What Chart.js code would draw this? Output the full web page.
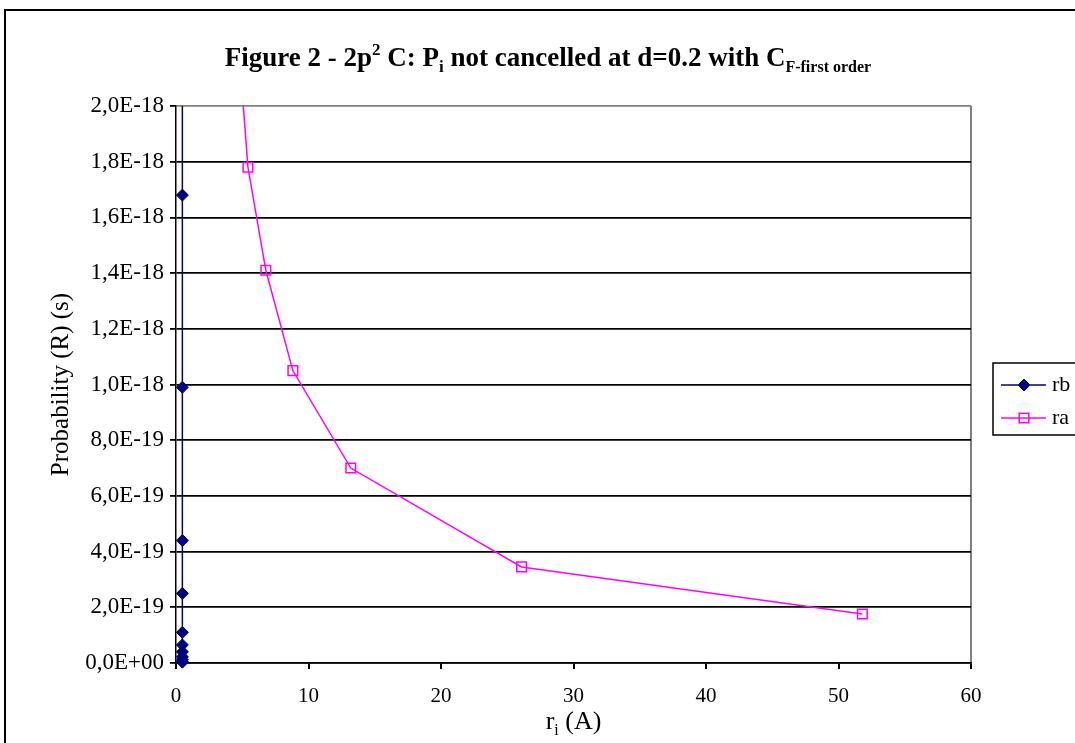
<!DOCTYPE html>
<html>
<head>
<meta charset="utf-8">
<script src="https://cdn.jsdelivr.net/npm/chart.js@4.4.1/dist/chart.umd.min.js"></script>
<style>
  html, body { margin: 0; padding: 0; background: #fff; }
  #frame { position: absolute; left: 4px; top: 9px; width: 1200px; height: 900px;
           border-left: 2px solid #000; border-top: 2px solid #000; }
  #wrap { position: absolute; left: 0; top: 0; width: 1075px; height: 743px; }
</style>
</head>
<body>
<div id="frame"></div>
<div id="wrap"><canvas id="chart" width="1075" height="743"></canvas></div>
<script>
// data (probabilities in s, r in A)
const rbR = [0.48, 0.48, 0.48, 0.48, 0.48, 0.48, 0.48, 0.48, 0.48, 0.48, 0.48, 0.48, 0.48];
const rbP = [4.5e-18, 2.9e-18, 1.68e-18, 0.99e-18, 0.44e-18, 0.25e-18, 0.11e-18, 0.065e-18,
             0.04e-18, 0.022e-18, 0.012e-18, 0.006e-18, 0.003e-18];
const raR = [4.2, 5.43, 6.78, 8.82, 13.19, 26.08, 51.8];
const raP = [2.55e-18, 1.78e-18, 1.41e-18, 1.05e-18, 0.70e-18, 0.345e-18, 0.176e-18];
const xTicks = [0, 10, 20, 30, 40, 50, 60];
const yTicks = [0, 2e-19, 4e-19, 6e-19, 8e-19, 1e-18, 1.2e-18, 1.4e-18, 1.6e-18, 1.8e-18, 2e-18];

const serif = '"Liberation Serif", "Times New Roman", serif';

// 2,0E-18 style labels
function sciComma(v) {
  const parts = Number(v).toExponential(1).split('e');
  let exp = parseInt(parts[1], 10);
  const sign = exp < 0 ? '-' : '+';
  exp = Math.abs(exp);
  return parts[0].replace('.', ',') + 'E' + sign + (exp < 10 ? '0' + exp : exp);
}

// draw a row of text pieces with different sizes / offsets
function drawRuns(ctx, runs, cx, baseY) {
  let total = 0;
  runs.forEach(r => { ctx.font = r.font; total += ctx.measureText(r.text).width; });
  let x = cx - total / 2;
  ctx.textAlign = 'left';
  ctx.textBaseline = 'alphabetic';
  runs.forEach(r => {
    ctx.font = r.font;
    ctx.fillText(r.text, x, baseY + (r.dy || 0));
    x += ctx.measureText(r.text).width;
  });
}

const textPlugin = {
  id: 'texts',
  afterDraw(chart) {
    const ctx = chart.ctx;
    const area = chart.chartArea;
    ctx.save();
    ctx.fillStyle = '#000';

    // title
    drawRuns(ctx, [
      { text: 'Figure 2 - 2p', font: 'bold 27px ' + serif },
      { text: '2', font: 'bold 17px ' + serif, dy: -11 },
      { text: ' C: P', font: 'bold 27px ' + serif },
      { text: 'i', font: 'bold 17px ' + serif, dy: 6 },
      { text: ' not cancelled at d=0.2 with C', font: 'bold 27px ' + serif },
      { text: 'F-first order', font: 'bold 16px ' + serif, dy: 6 }
    ], 548, 66);

    // x axis title
    drawRuns(ctx, [
      { text: 'r', font: '26px ' + serif },
      { text: 'i', font: '16px ' + serif, dy: 6 },
      { text: ' (A)', font: '26px ' + serif }
    ], (area.left + area.right) / 2, 729);

    // y axis title
    ctx.translate(61, (area.top + area.bottom) / 2);
    ctx.rotate(-Math.PI / 2);
    ctx.font = '25px ' + serif;
    ctx.textAlign = 'center';
    ctx.textBaseline = 'middle';
    ctx.fillText('Probability (R) (s)', 0, 0);
    ctx.restore();

    // legend box
    ctx.save();
    ctx.strokeStyle = '#000';
    ctx.lineWidth = 1.5;
    ctx.strokeRect(993, 363, 100, 72);
    const rows = [{ ds: chart.data.datasets[0], y: 385 }, { ds: chart.data.datasets[1], y: 418 }];
    rows.forEach(row => {
      const ds = row.ds;
      ctx.strokeStyle = ds.borderColor;
      ctx.lineWidth = ds.borderWidth;
      ctx.beginPath();
      ctx.moveTo(1001, row.y);
      ctx.lineTo(1046, row.y);
      ctx.stroke();
      ctx.fillStyle = ds.pointBackgroundColor;
      ctx.strokeStyle = ds.pointBorderColor;
      ctx.lineWidth = ds.pointBorderWidth;
      Chart.helpers.drawPoint(ctx, {
        pointStyle: ds.pointStyle, radius: ds.pointRadius, borderWidth: ds.pointBorderWidth
      }, 1024, row.y);
      ctx.fillStyle = '#000';
      ctx.font = '22px ' + serif;
      ctx.textAlign = 'left';
      ctx.textBaseline = 'middle';
      ctx.fillText(ds.label, 1052, row.y);
    });
    ctx.restore();
  }
};

const rbPoints = rbR.map((r, i) => ({ x: r, y: rbP[i] }));
const raPoints = raR.map((r, i) => ({ x: r, y: raP[i] }));

new Chart(document.getElementById('chart'), {
  type: 'scatter',
  data: {
    datasets: [
      {
        label: 'rb',
        data: rbPoints,
        showLine: true,
        borderColor: '#000080',
        borderWidth: 1.5,
        pointStyle: 'rectRot',
        pointRadius: 6,
        pointBackgroundColor: '#000080',
        pointBorderColor: '#000080',
        pointBorderWidth: 1,
        clip: { left: 10, right: 10, top: 0, bottom: 10 }
      },
      {
        label: 'ra',
        data: raPoints,
        showLine: true,
        borderColor: '#ff00ff',
        borderWidth: 1.5,
        pointStyle: 'rect',
        pointRadius: 6.8,
        pointBackgroundColor: 'rgba(0,0,0,0)',
        pointBorderColor: '#ff00ff',
        pointBorderWidth: 1.5,
        clip: { left: 10, right: 10, top: 0, bottom: 10 }
      }
    ]
  },
  options: {
    responsive: false,
    animation: false,
    layout: { padding: { left: 0, top: 106, right: 104, bottom: 0 } },
    plugins: {
      legend: { display: false },
      title: { display: false },
      tooltip: { enabled: false }
    },
    scales: {
      x: {
        type: 'linear',
        min: 0,
        max: 60,
        afterBuildTicks: scale => { scale.ticks = xTicks.map(v => ({ value: v })); },
        afterFit: scale => { scale.height = 80; },
        border: { color: '#000', width: 1.5 },
        grid: {
          drawOnChartArea: true,
          color: c => (c.tick && c.tick.value === 60 ? '#808080' : 'rgba(0,0,0,0)'),
          lineWidth: 2,
          tickColor: '#000',
          tickLength: 6
        },
        ticks: {
          color: '#000',
          font: { family: serif, size: 21 },
          padding: 15,
          maxRotation: 0
        }
      },
      y: {
        type: 'linear',
        min: 0,
        max: 2e-18,
        afterBuildTicks: scale => { scale.ticks = yTicks.map(v => ({ value: v })); },
        afterFit: scale => { scale.width = 176; },
        border: { color: '#000', width: 1.5 },
        grid: {
          color: c => (c.index === yTicks.length - 1 ? '#808080' : '#000'),
          lineWidth: 1.8,
          tickColor: '#000',
          tickLength: 6
        },
        ticks: {
          color: '#000',
          font: { family: serif, size: 23 },
          padding: 6,
          callback: v => sciComma(v)
        }
      }
    }
  },
  plugins: [textPlugin]
});
</script>
</body>
</html>
